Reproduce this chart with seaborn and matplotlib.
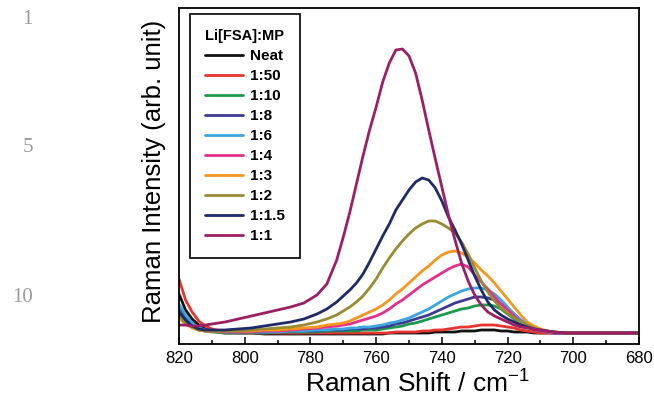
import pandas as pd
import seaborn as sns
import matplotlib.pyplot as plt
from matplotlib.ticker import MultipleLocator

# Raman shift grid (cm-1)
shift = [820, 818, 816, 814, 812, 810, 806, 802, 798, 794, 790, 786, 782, 778, 775,
         772, 770, 768, 766, 764, 762, 760, 758, 756, 754, 752, 750, 748, 746, 744,
         742, 740, 738, 736, 734, 732, 730, 728, 726, 724, 722, 720, 718, 716, 714,
         712, 710, 708, 706, 702, 698, 694, 690, 685, 680]

neat = [40, 24, 15, 9, 5, 3, 1, 1, 1, 0, 0, 0, 0, 0, 0,
        0, 0, 0, 0, 0, 0, 0, 0, 1, 1, 1, 1, 1, 1, 1,
        2, 2, 2, 2, 3, 3, 3, 4, 4, 4, 3, 3, 2, 2, 2,
        1, 1, 1, 1, 1, 1, 1, 1, 1, 1]
r_1_50 = [55, 34, 22, 13, 8, 5, 2, 1, 1, 1, 1, 1, 1, 1, 1,
          1, 1, 1, 1, 1, 1, 1, 1, 1, 2, 2, 2, 2, 3, 3,
          4, 4, 5, 6, 7, 7, 8, 9, 9, 9, 8, 7, 6, 4, 3,
          2, 1, 1, 1, 1, 1, 1, 1, 1, 1]
r_1_10 = [24, 15, 9, 5, 3, 2, 1, 1, 1, 1, 2, 2, 2, 2, 3,
          3, 3, 3, 3, 4, 4, 4, 5, 6, 7, 8, 10, 11, 13, 15,
          17, 19, 21, 23, 25, 26, 28, 29, 29, 28, 25, 20, 15, 11, 7,
          4, 3, 2, 1, 1, 1, 1, 1, 1, 1]
r_1_8 = [28, 18, 11, 6, 4, 3, 2, 2, 2, 2, 2, 3, 3, 3, 4,
         4, 4, 5, 5, 5, 6, 6, 7, 8, 10, 11, 13, 15, 17, 19,
         22, 25, 28, 31, 33, 35, 37, 37, 36, 34, 30, 25, 20, 14, 9,
         6, 4, 2, 1, 1, 1, 1, 1, 1, 1]
r_1_6 = [30, 19, 11, 6, 4, 3, 2, 2, 2, 2, 2, 3, 3, 4, 4,
         5, 5, 6, 6, 7, 7, 8, 9, 11, 12, 14, 16, 19, 22, 25,
         29, 33, 37, 40, 43, 45, 46, 46, 44, 40, 34, 27, 20, 14, 9,
         6, 4, 2, 1, 1, 1, 1, 1, 1, 1]
r_1_4 = [19, 12, 7, 4, 3, 3, 2, 2, 2, 3, 3, 4, 5, 6, 7,
         8, 9, 10, 12, 14, 16, 18, 21, 25, 30, 34, 39, 44, 49, 53,
         57, 61, 65, 68, 70, 67, 59, 52, 45, 37, 30, 24, 18, 12, 7,
         4, 3, 2, 1, 1, 1, 1, 1, 1, 1]
r_1_3 = [16, 10, 6, 4, 3, 3, 3, 3, 3, 4, 4, 5, 6, 7, 9,
         10, 11, 13, 16, 19, 22, 25, 29, 34, 40, 45, 51, 57, 63, 68,
         74, 79, 82, 83, 81, 77, 71, 64, 58, 51, 43, 35, 27, 19, 12,
         8, 5, 3, 2, 1, 1, 1, 1, 1, 1]
r_1_2 = [18, 11, 7, 4, 3, 3, 3, 3, 4, 5, 6, 7, 9, 12, 15,
         19, 23, 27, 32, 38, 46, 55, 66, 76, 85, 93, 100, 106, 110, 113,
         113, 110, 106, 101, 92, 80, 66, 53, 42, 33, 26, 21, 16, 12, 9,
         6, 4, 3, 2, 1, 1, 1, 1, 1, 1]
r_1_1_5 = [22, 14, 8, 5, 4, 4, 4, 5, 6, 8, 10, 12, 15, 20, 25,
           32, 38, 44, 51, 60, 72, 85, 98, 110, 124, 134, 144, 152, 156, 154,
           146, 133, 117, 104, 90, 74, 58, 44, 32, 24, 19, 15, 12, 9, 7,
           5, 4, 3, 2, 1, 1, 1, 1, 1, 1]
r_1_1 = [9, 9, 8, 8, 9, 10, 12, 15, 18, 21, 24, 27, 31, 39, 50,
         74, 97, 122, 150, 178, 204, 227, 252, 271, 284, 285, 278, 261, 234, 204,
         175, 147, 119, 94, 71, 53, 39, 29, 22, 18, 15, 12, 9, 7, 6,
         5, 4, 3, 2, 1, 1, 1, 1, 1, 1]

labels = ["Neat", "1:50", "1:10", "1:8", "1:6", "1:4", "1:3", "1:2", "1:1.5", "1:1"]
series = [neat, r_1_50, r_1_10, r_1_8, r_1_6, r_1_4, r_1_3, r_1_2, r_1_1_5, r_1_1]
colors = ["#111111", "#e8342f", "#1c9a4b", "#3d3b94", "#3ba5df",
          "#e5308b", "#f7961f", "#9a8a30", "#1f2a68", "#9c1f63"]

wide = pd.DataFrame({"shift": shift})
for lab, vals in zip(labels, series):
    wide[lab] = vals
df = wide.melt(id_vars="shift", var_name="ratio", value_name="intensity")

sns.set_style("ticks")
plt.rcParams['font.family'] = ['Liberation Sans', 'DejaVu Sans']
plt.rcParams['mathtext.default'] = 'regular'
plt.rcParams['text.color'] = 'black'
plt.rcParams['axes.labelcolor'] = 'black'
plt.rcParams['xtick.color'] = 'black'

fig = plt.figure(figsize=(6.54, 4.04), dpi=100)
ax = fig.add_axes([179 / 654, 1 - 344 / 404, 460 / 654, 336 / 404])

sns.lineplot(data=df, x="shift", y="intensity", hue="ratio", hue_order=labels,
             palette=dict(zip(labels, colors)), linewidth=2.0, ax=ax)

ax.set_xlim(820, 680)
ax.set_ylim(-10, 326)
ax.set_yticks([])
ax.set_xticks([820, 800, 780, 760, 740, 720, 700, 680])
ax.xaxis.set_minor_locator(MultipleLocator(10))
ax.tick_params(axis='x', which='major', direction='in', length=5, width=1.1,
               labelsize=12, pad=5, labelcolor='black')
ax.tick_params(axis='x', which='minor', direction='in', length=3, width=1.1)
for sp in ax.spines.values():
    sp.set_linewidth(1.3)
    sp.set_color('black')

ax.set_xlabel(r"Raman Shift / cm$^{-1}$", fontsize=19)
ax.set_ylabel("Raman Intensity (arb. unit)", fontsize=18.5)
ax.xaxis.set_label_coords((417 - 179) / 460, (344 - 370) / 336)
ax.yaxis.set_label_coords((166 - 179) / 460, (344 - 171) / 336)

leg = ax.legend(title="Li[FSA]:MP", loc="upper left",
                bbox_to_anchor=((190 - 179) / 460, (344 - 14) / 336),
                borderaxespad=0, fancybox=False, edgecolor='black',
                prop={'weight': 'bold', 'size': 11},
                title_fontproperties={'weight': 'bold', 'size': 10.5},
                handlelength=2.5, handletextpad=0.4, labelspacing=0.39,
                borderpad=1.0)
leg.get_frame().set_linewidth(1.2)
leg.get_frame().set_alpha(1)
for line in leg.get_lines():
    line.set_linewidth(2.0)

# line numbers in the page margin
for num, ypix in [("1", 20), ("5", 147), ("10", 297)]:
    fig.text(33 / 654, 1 - ypix / 404, num, ha='right', va='center',
             color='#9a9a9a', fontsize=15, family='Liberation Serif')

fig.savefig("out.png", dpi=100)
